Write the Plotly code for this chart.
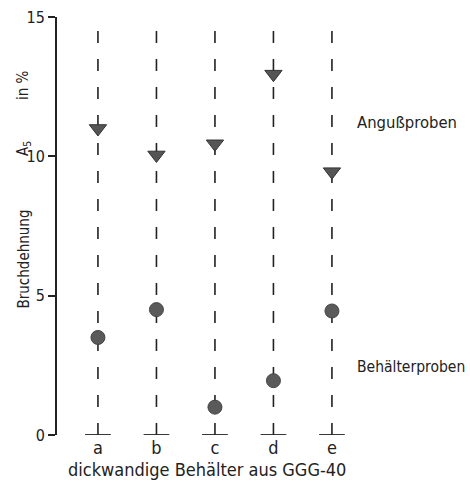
import plotly.graph_objects as go

categories = ["a", "b", "c", "d", "e"]
anguss = [11.0, 10.05, 10.45, 12.95, 9.45]
behaelter = [3.5, 4.5, 1.0, 1.95, 4.45]
y_ticks = [0, 5, 10, 15]
line_top = 14.5

FONT = "DejaVu Sans Condensed, Liberation Sans Narrow, sans-serif"
TXT = "#222"
xs = list(range(len(categories)))

fig = go.Figure()

lx, ly = [], []
for x in xs:
    lx += [x, x, None]
    ly += [0, line_top, None]
fig.add_trace(go.Scatter(x=lx, y=ly, mode="lines",
                         line=dict(color="#222", width=1.6, dash="12px,16px"),
                         hoverinfo="skip", showlegend=False))

bx, by = [], []
for x in xs:
    bx += [x - 0.22, x + 0.22, None]
    by += [0, 0, None]
fig.add_trace(go.Scatter(x=bx, y=by, mode="lines",
                         line=dict(color="#222", width=1.8),
                         hoverinfo="skip", showlegend=False))

fig.add_trace(go.Scatter(x=xs, y=anguss, mode="markers",
                         marker=dict(symbol="triangle-down", size=15, color="#555",
                                     line=dict(color="#333", width=1)),
                         showlegend=False))
fig.add_trace(go.Scatter(x=xs, y=behaelter, mode="markers",
                         marker=dict(symbol="circle", size=14, color="#5a5a5a",
                                     line=dict(color="#444", width=1)),
                         showlegend=False))

def f(size):
    return dict(size=size, color=TXT, family=FONT)

annotations = [
    dict(x=4.39, y=11.2, xref="x", yref="y", text="Angußproben", showarrow=False,
         xanchor="left", yanchor="middle", font=f(16.5)),
    dict(x=4.39, y=2.44, xref="x", yref="y", text="Behälterproben", showarrow=False,
         xanchor="left", yanchor="middle", font=f(15.5)),
    dict(x=0.362, y=-0.0837, xref="paper", yref="paper",
         text="dickwandige Behälter aus GGG-40",
         showarrow=False, xanchor="center", yanchor="middle", font=f(18)),
    dict(x=-0.0823, y=(435 - 259.5) / 418, xref="paper", yref="paper",
         text="Bruchdehnung", textangle=-90, showarrow=False,
         xanchor="center", yanchor="middle", font=f(15)),
    dict(x=-0.0823, y=(435 - 149) / 418, xref="paper", yref="paper",
         text="A<sub>5</sub>", textangle=-90, showarrow=False,
         xanchor="center", yanchor="middle", font=f(15)),
    dict(x=-0.0823, y=(435 - 85) / 418, xref="paper", yref="paper",
         text="in %", textangle=-90, showarrow=False,
         xanchor="center", yanchor="middle", font=f(15)),
]

fig.update_layout(
    width=470, height=484,
    margin=dict(l=57, r=0, t=17, b=49, autoexpand=False),
    paper_bgcolor="white", plot_bgcolor="white",
    annotations=annotations,
    xaxis=dict(range=[-0.70, 6.36], tickvals=xs, ticktext=categories,
               showline=False, showgrid=False, zeroline=False, ticks="",
               automargin=False, tickfont=f(18)),
    yaxis=dict(range=[0, 15], tickvals=y_ticks, showline=True, linecolor="#222",
               linewidth=1.8, ticks="outside", ticklen=7, tickwidth=1.6,
               tickcolor="#222", showgrid=False, zeroline=False, automargin=False,
               tickfont=f(16)),
)

# remove the browser's default 8px body margin so the figure fills the window
fig.write_html("out.html", config={"displayModeBar": False},
               post_script="document.body.style.margin='0';")
